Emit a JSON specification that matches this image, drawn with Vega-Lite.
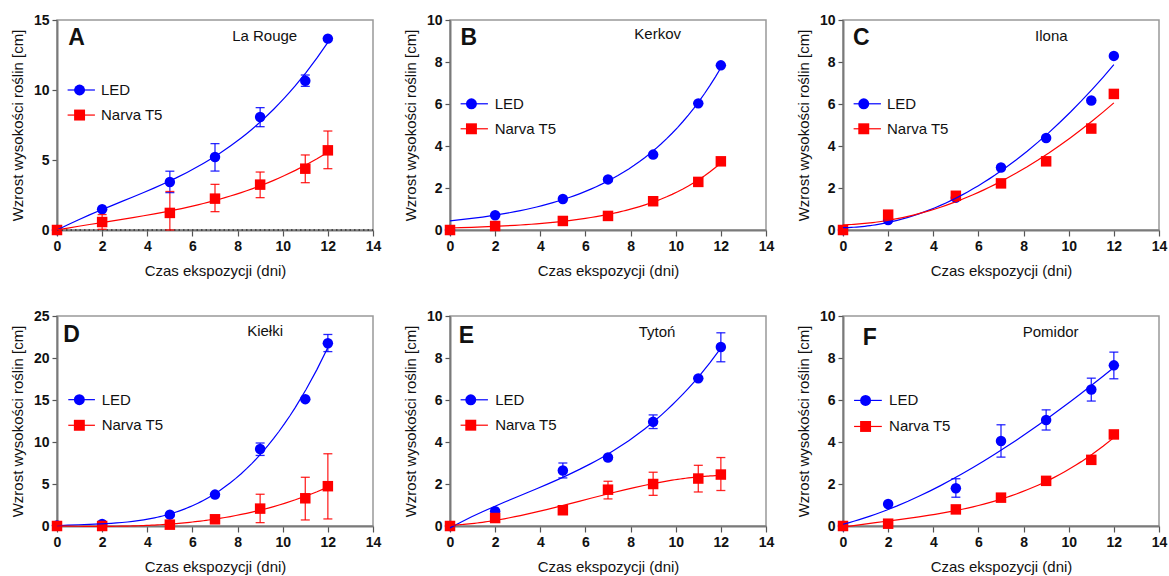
{
"$schema": "https://vega.github.io/schema/vega-lite/v6.json",
"padding": {"left": 9, "top": 12, "right": 5, "bottom": 5},
"background": "white",
"config": {
  "font": "Liberation Sans",
  "view": {"stroke": "#999999", "strokeWidth": 1.5},
  "axis": {"domainColor": "#7a7a7a", "domainWidth": 2, "tickColor": "#555", "tickWidth": 1.2, "grid": false,
    "labelFont": "Liberation Sans", "labelFontSize": 14, "labelFontWeight": "bold", "labelColor": "#111",
    "titleFont": "Liberation Sans", "titleFontSize": 15, "titleFontWeight": "normal", "titleColor": "#111"}
},
"datasets": {
"pts": [
{"panel":"A","series":"LED","day":0,"mean":0},
{"panel":"A","series":"LED","day":2,"mean":1.48},
{"panel":"A","series":"LED","day":5,"mean":3.43,"lo":2.67,"hi":4.2},
{"panel":"A","series":"LED","day":7,"mean":5.21,"lo":4.21,"hi":6.17},
{"panel":"A","series":"LED","day":9,"mean":8.07,"lo":7.38,"hi":8.74},
{"panel":"A","series":"LED","day":11,"mean":10.66,"lo":10.26,"hi":11.07},
{"panel":"A","series":"LED","day":12,"mean":13.67},
{"panel":"A","series":"Narva T5","day":0,"mean":0},
{"panel":"A","series":"Narva T5","day":2,"mean":0.57,"lo":0.05,"hi":1.1},
{"panel":"A","series":"Narva T5","day":5,"mean":1.22,"lo":0,"hi":2.75},
{"panel":"A","series":"Narva T5","day":7,"mean":2.24,"lo":1.31,"hi":3.26},
{"panel":"A","series":"Narva T5","day":9,"mean":3.24,"lo":2.31,"hi":4.14},
{"panel":"A","series":"Narva T5","day":11,"mean":4.38,"lo":3.38,"hi":5.36},
{"panel":"A","series":"Narva T5","day":12,"mean":5.69,"lo":4.38,"hi":7.07},
{"panel":"B","series":"LED","day":0,"mean":0},
{"panel":"B","series":"LED","day":2,"mean":0.7},
{"panel":"B","series":"LED","day":5,"mean":1.48},
{"panel":"B","series":"LED","day":7,"mean":2.41},
{"panel":"B","series":"LED","day":9,"mean":3.59},
{"panel":"B","series":"LED","day":11,"mean":6.03},
{"panel":"B","series":"LED","day":12,"mean":7.84},
{"panel":"B","series":"Narva T5","day":0,"mean":0},
{"panel":"B","series":"Narva T5","day":2,"mean":0.19},
{"panel":"B","series":"Narva T5","day":5,"mean":0.43},
{"panel":"B","series":"Narva T5","day":7,"mean":0.67},
{"panel":"B","series":"Narva T5","day":9,"mean":1.37},
{"panel":"B","series":"Narva T5","day":11,"mean":2.29},
{"panel":"B","series":"Narva T5","day":12,"mean":3.27},
{"panel":"C","series":"LED","day":0,"mean":0},
{"panel":"C","series":"LED","day":2,"mean":0.48},
{"panel":"C","series":"LED","day":5,"mean":1.54},
{"panel":"C","series":"LED","day":7,"mean":2.98},
{"panel":"C","series":"LED","day":9,"mean":4.38},
{"panel":"C","series":"LED","day":11,"mean":6.17},
{"panel":"C","series":"LED","day":12,"mean":8.29},
{"panel":"C","series":"Narva T5","day":0,"mean":0},
{"panel":"C","series":"Narva T5","day":2,"mean":0.73},
{"panel":"C","series":"Narva T5","day":5,"mean":1.63},
{"panel":"C","series":"Narva T5","day":7,"mean":2.22},
{"panel":"C","series":"Narva T5","day":9,"mean":3.27},
{"panel":"C","series":"Narva T5","day":11,"mean":4.83},
{"panel":"C","series":"Narva T5","day":12,"mean":6.48},
{"panel":"D","series":"LED","day":0,"mean":0.05},
{"panel":"D","series":"LED","day":2,"mean":0.24},
{"panel":"D","series":"LED","day":5,"mean":1.35},
{"panel":"D","series":"LED","day":7,"mean":3.74},
{"panel":"D","series":"LED","day":9,"mean":9.16,"lo":8.4,"hi":9.88},
{"panel":"D","series":"LED","day":11,"mean":15.1},
{"panel":"D","series":"LED","day":12,"mean":21.75,"lo":20.76,"hi":22.8},
{"panel":"D","series":"Narva T5","day":0,"mean":0},
{"panel":"D","series":"Narva T5","day":2,"mean":0},
{"panel":"D","series":"Narva T5","day":5,"mean":0.16},
{"panel":"D","series":"Narva T5","day":7,"mean":0.8},
{"panel":"D","series":"Narva T5","day":9,"mean":2.07,"lo":0.4,"hi":3.78},
{"panel":"D","series":"Narva T5","day":11,"mean":3.3,"lo":0.72,"hi":5.8},
{"panel":"D","series":"Narva T5","day":12,"mean":4.74,"lo":0.84,"hi":8.6},
{"panel":"E","series":"LED","day":0,"mean":0},
{"panel":"E","series":"LED","day":2,"mean":0.7},
{"panel":"E","series":"LED","day":5,"mean":2.64,"lo":2.29,"hi":3.0},
{"panel":"E","series":"LED","day":7,"mean":3.26},
{"panel":"E","series":"LED","day":9,"mean":4.96,"lo":4.64,"hi":5.29},
{"panel":"E","series":"LED","day":11,"mean":7.03},
{"panel":"E","series":"LED","day":12,"mean":8.52,"lo":7.82,"hi":9.2},
{"panel":"E","series":"Narva T5","day":0,"mean":0},
{"panel":"E","series":"Narva T5","day":2,"mean":0.38},
{"panel":"E","series":"Narva T5","day":5,"mean":0.75},
{"panel":"E","series":"Narva T5","day":7,"mean":1.73,"lo":1.29,"hi":2.13},
{"panel":"E","series":"Narva T5","day":9,"mean":2.0,"lo":1.46,"hi":2.56},
{"panel":"E","series":"Narva T5","day":11,"mean":2.26,"lo":1.62,"hi":2.89},
{"panel":"E","series":"Narva T5","day":12,"mean":2.45,"lo":1.69,"hi":3.26},
{"panel":"F","series":"LED","day":0,"mean":0},
{"panel":"F","series":"LED","day":2,"mean":1.05},
{"panel":"F","series":"LED","day":5,"mean":1.8,"lo":1.37,"hi":2.25},
{"panel":"F","series":"LED","day":7,"mean":4.05,"lo":3.28,"hi":4.82},
{"panel":"F","series":"LED","day":9,"mean":5.05,"lo":4.57,"hi":5.53},
{"panel":"F","series":"LED","day":11,"mean":6.5,"lo":5.95,"hi":7.04},
{"panel":"F","series":"LED","day":12,"mean":7.65,"lo":7.01,"hi":8.28},
{"panel":"F","series":"Narva T5","day":0,"mean":0},
{"panel":"F","series":"Narva T5","day":2,"mean":0.11},
{"panel":"F","series":"Narva T5","day":5,"mean":0.79},
{"panel":"F","series":"Narva T5","day":7,"mean":1.35},
{"panel":"F","series":"Narva T5","day":9,"mean":2.15,"lo":2.0,"hi":2.35},
{"panel":"F","series":"Narva T5","day":11,"mean":3.15},
{"panel":"F","series":"Narva T5","day":12,"mean":4.36}
]
},
"columns": 3,
"bounds": "flush",
"spacing": {"row": 86, "column": 77},
"concat": [
{
"width": 316, "height": 210,
"layer": [
{"data":{"name":"pts"},"transform":[{"filter":"datum.panel=='A'"}],"mark":{"type":"point","filled":true,"size":110,"opacity":1},"encoding":{
  "x":{"field":"day","type":"quantitative","scale":{"domain":[0,14],"nice":false,"zero":false},"axis":{"values":[0,1,2,3,4,5,6,7,8,9,10,11,12,13,14],"labelExpr":"datum.value % 2 == 0 ? datum.label : ''","tickSize":{"condition":{"test":"datum.value % 2 == 0","value":6},"value":3},"labelPadding":3,"titlePadding":10,"labelOverlap":false,"labelFlush":false,"title":"Czas ekspozycji (dni)"}},
  "y":{"field":"mean","type":"quantitative","scale":{"domain":[0,15],"nice":false},"axis":{"values":[0,5,10,15],"tickSize":5,"labelPadding":3,"titlePadding":8,"labelOverlap":false,"labelFlush":false,"title":"Wzrost wysokości roślin [cm]"}},
  "color":{"field":"series","type":"nominal","scale":{"domain":["LED","Narva T5"],"range":["#0000ff","#ff0000"]},"legend":null},
  "shape":{"field":"series","type":"nominal","scale":{"domain":["LED","Narva T5"],"range":["circle","square"]},"legend":null}}},
{"data":{"values":[{}]},"mark":{"type":"rule","strokeDash":[1.5,3],"color":"#333","strokeWidth":1.3},"encoding":{"x":{"datum":0},"x2":{"datum":14},"y":{"datum":0}}},
{"data":{"name":"pts"},"transform":[{"filter":"datum.panel=='A' && isValid(datum.lo)"}],"mark":{"type":"rule","strokeWidth":1.3,"opacity":0.85},"encoding":{"x":{"field":"day","type":"quantitative"},"y":{"field":"lo","type":"quantitative"},"y2":{"field":"hi"},"color":{"field":"series","type":"nominal","legend":null}}},
{"data":{"name":"pts"},"transform":[{"filter":"datum.panel=='A' && isValid(datum.lo)"}],"mark":{"type":"tick","orient":"horizontal","size":9,"thickness":1.3,"opacity":0.85},"encoding":{"x":{"field":"day","type":"quantitative"},"y":{"field":"lo","type":"quantitative"},"color":{"field":"series","type":"nominal","legend":null}}},
{"data":{"name":"pts"},"transform":[{"filter":"datum.panel=='A' && isValid(datum.lo)"}],"mark":{"type":"tick","orient":"horizontal","size":9,"thickness":1.3,"opacity":0.85},"encoding":{"x":{"field":"day","type":"quantitative"},"y":{"field":"hi","type":"quantitative"},"color":{"field":"series","type":"nominal","legend":null}}},
{"data":{"name":"pts"},"transform":[{"filter":"datum.panel=='A'"},{"regression":"mean","on":"day","groupby":["series"],"method":"poly","order":3,"extent":[0,12]}],"mark":{"type":"line","strokeWidth":1.2},"encoding":{"x":{"field":"day","type":"quantitative"},"y":{"field":"mean","type":"quantitative"},"color":{"field":"series","type":"nominal","legend":null}}},
{"data":{"values":[{}]},"mark":{"type":"rule","color":"#0000ff","strokeWidth":1.2},"encoding":{"x":{"datum":0.47},"x2":{"datum":1.68},"y":{"datum":10.0}}},
{"data":{"values":[{}]},"mark":{"type":"rule","color":"#ff0000","strokeWidth":1.2},"encoding":{"x":{"datum":0.47},"x2":{"datum":1.68},"y":{"datum":8.21}}},
{"data":{"values":[{}]},"mark":{"type":"point","shape":"circle","filled":true,"size":120,"opacity":1,"color":"#0000ff"},"encoding":{"x":{"datum":1.0},"y":{"datum":10.0}}},
{"data":{"values":[{}]},"mark":{"type":"point","shape":"square","filled":true,"size":120,"opacity":1,"color":"#ff0000"},"encoding":{"x":{"datum":1.0},"y":{"datum":8.21}}},
{"data":{"values":[{}]},"mark":{"type":"text","text":"LED","align":"left","baseline":"middle","fontSize":15,"color":"#111"},"encoding":{"x":{"datum":1.95},"y":{"datum":10.0}}},
{"data":{"values":[{}]},"mark":{"type":"text","text":"Narva T5","align":"left","baseline":"middle","fontSize":15,"color":"#111"},"encoding":{"x":{"datum":1.95},"y":{"datum":8.21}}},
{"data":{"values":[{}]},"mark":{"type":"text","text":"A","align":"left","baseline":"middle","fontSize":23,"fontWeight":"bold","color":"#111"},"encoding":{"x":{"datum":0.5},"y":{"datum":13.68}}},
{"data":{"values":[{}]},"mark":{"type":"text","text":"La Rouge","align":"center","baseline":"middle","fontSize":15,"color":"#111"},"encoding":{"x":{"datum":9.2},"y":{"datum":13.88}}}
]
},
{
"width": 316, "height": 210,
"layer": [
{"data":{"name":"pts"},"transform":[{"filter":"datum.panel=='B'"}],"mark":{"type":"point","filled":true,"size":110,"opacity":1},"encoding":{
  "x":{"field":"day","type":"quantitative","scale":{"domain":[0,14],"nice":false,"zero":false},"axis":{"values":[0,1,2,3,4,5,6,7,8,9,10,11,12,13,14],"labelExpr":"datum.value % 2 == 0 ? datum.label : ''","tickSize":{"condition":{"test":"datum.value % 2 == 0","value":6},"value":3},"labelPadding":3,"titlePadding":10,"labelOverlap":false,"labelFlush":false,"title":"Czas ekspozycji (dni)"}},
  "y":{"field":"mean","type":"quantitative","scale":{"domain":[0,10],"nice":false},"axis":{"values":[0,2,4,6,8,10],"tickSize":5,"labelPadding":3,"titlePadding":8,"labelOverlap":false,"labelFlush":false,"title":"Wzrost wysokości roślin [cm]"}},
  "color":{"field":"series","type":"nominal","legend":null},
  "shape":{"field":"series","type":"nominal","scale":{"domain":["LED","Narva T5"],"range":["circle","square"]},"legend":null}}},
{"data":{"name":"pts"},"transform":[{"filter":"datum.panel=='B' && datum.mean > 0"},{"regression":"mean","on":"day","groupby":["series"],"method":"exp","extent":[0,12]}],"mark":{"type":"line","strokeWidth":1.2},"encoding":{"x":{"field":"day","type":"quantitative"},"y":{"field":"mean","type":"quantitative"},"color":{"field":"series","type":"nominal","legend":null}}},
{"data":{"values":[{}]},"mark":{"type":"rule","color":"#0000ff","strokeWidth":1.2},"encoding":{"x":{"datum":0.47},"x2":{"datum":1.68},"y":{"datum":6.01}}},
{"data":{"values":[{}]},"mark":{"type":"rule","color":"#ff0000","strokeWidth":1.2},"encoding":{"x":{"datum":0.47},"x2":{"datum":1.68},"y":{"datum":4.82}}},
{"data":{"values":[{}]},"mark":{"type":"point","shape":"circle","filled":true,"size":120,"opacity":1,"color":"#0000ff"},"encoding":{"x":{"datum":0.95},"y":{"datum":6.01}}},
{"data":{"values":[{}]},"mark":{"type":"point","shape":"square","filled":true,"size":120,"opacity":1,"color":"#ff0000"},"encoding":{"x":{"datum":0.95},"y":{"datum":4.82}}},
{"data":{"values":[{}]},"mark":{"type":"text","text":"LED","align":"left","baseline":"middle","fontSize":15,"color":"#111"},"encoding":{"x":{"datum":1.98},"y":{"datum":6.01}}},
{"data":{"values":[{}]},"mark":{"type":"text","text":"Narva T5","align":"left","baseline":"middle","fontSize":15,"color":"#111"},"encoding":{"x":{"datum":1.98},"y":{"datum":4.82}}},
{"data":{"values":[{}]},"mark":{"type":"text","text":"B","align":"left","baseline":"middle","fontSize":23,"fontWeight":"bold","color":"#111"},"encoding":{"x":{"datum":0.47},"y":{"datum":9.12}}},
{"data":{"values":[{}]},"mark":{"type":"text","text":"Kerkov","align":"center","baseline":"middle","fontSize":15,"color":"#111"},"encoding":{"x":{"datum":9.2},"y":{"datum":9.34}}}
]
},
{
"width": 316, "height": 210,
"layer": [
{"data":{"name":"pts"},"transform":[{"filter":"datum.panel=='C'"}],"mark":{"type":"point","filled":true,"size":110,"opacity":1},"encoding":{
  "x":{"field":"day","type":"quantitative","scale":{"domain":[0,14],"nice":false,"zero":false},"axis":{"values":[0,1,2,3,4,5,6,7,8,9,10,11,12,13,14],"labelExpr":"datum.value % 2 == 0 ? datum.label : ''","tickSize":{"condition":{"test":"datum.value % 2 == 0","value":6},"value":3},"labelPadding":3,"titlePadding":10,"labelOverlap":false,"labelFlush":false,"title":"Czas ekspozycji (dni)"}},
  "y":{"field":"mean","type":"quantitative","scale":{"domain":[0,10],"nice":false},"axis":{"values":[0,2,4,6,8,10],"tickSize":5,"labelPadding":3,"titlePadding":8,"labelOverlap":false,"labelFlush":false,"title":"Wzrost wysokości roślin [cm]"}},
  "color":{"field":"series","type":"nominal","legend":null},
  "shape":{"field":"series","type":"nominal","scale":{"domain":["LED","Narva T5"],"range":["circle","square"]},"legend":null}}},
{"data":{"name":"pts"},"transform":[{"filter":"datum.panel=='C'"},{"regression":"mean","on":"day","groupby":["series"],"method":"poly","order":2,"extent":[0,12]}],"mark":{"type":"line","strokeWidth":1.2},"encoding":{"x":{"field":"day","type":"quantitative"},"y":{"field":"mean","type":"quantitative"},"color":{"field":"series","type":"nominal","legend":null}}},
{"data":{"values":[{}]},"mark":{"type":"rule","color":"#0000ff","strokeWidth":1.2},"encoding":{"x":{"datum":0.47},"x2":{"datum":1.68},"y":{"datum":6.01}}},
{"data":{"values":[{}]},"mark":{"type":"rule","color":"#ff0000","strokeWidth":1.2},"encoding":{"x":{"datum":0.47},"x2":{"datum":1.68},"y":{"datum":4.82}}},
{"data":{"values":[{}]},"mark":{"type":"point","shape":"circle","filled":true,"size":120,"opacity":1,"color":"#0000ff"},"encoding":{"x":{"datum":0.92},"y":{"datum":6.01}}},
{"data":{"values":[{}]},"mark":{"type":"point","shape":"square","filled":true,"size":120,"opacity":1,"color":"#ff0000"},"encoding":{"x":{"datum":0.92},"y":{"datum":4.82}}},
{"data":{"values":[{}]},"mark":{"type":"text","text":"LED","align":"left","baseline":"middle","fontSize":15,"color":"#111"},"encoding":{"x":{"datum":1.95},"y":{"datum":6.01}}},
{"data":{"values":[{}]},"mark":{"type":"text","text":"Narva T5","align":"left","baseline":"middle","fontSize":15,"color":"#111"},"encoding":{"x":{"datum":1.95},"y":{"datum":4.82}}},
{"data":{"values":[{}]},"mark":{"type":"text","text":"C","align":"left","baseline":"middle","fontSize":23,"fontWeight":"bold","color":"#111"},"encoding":{"x":{"datum":0.44},"y":{"datum":9.12}}},
{"data":{"values":[{}]},"mark":{"type":"text","text":"Ilona","align":"center","baseline":"middle","fontSize":15,"color":"#111"},"encoding":{"x":{"datum":9.23},"y":{"datum":9.24}}}
]
},
{
"width": 316, "height": 210,
"layer": [
{"data":{"name":"pts"},"transform":[{"filter":"datum.panel=='D'"}],"mark":{"type":"point","filled":true,"size":110,"opacity":1},"encoding":{
  "x":{"field":"day","type":"quantitative","scale":{"domain":[0,14],"nice":false,"zero":false},"axis":{"values":[0,1,2,3,4,5,6,7,8,9,10,11,12,13,14],"labelExpr":"datum.value % 2 == 0 ? datum.label : ''","tickSize":{"condition":{"test":"datum.value % 2 == 0","value":6},"value":3},"labelPadding":3,"titlePadding":10,"labelOverlap":false,"labelFlush":false,"title":"Czas ekspozycji (dni)"}},
  "y":{"field":"mean","type":"quantitative","scale":{"domain":[0,25],"nice":false},"axis":{"values":[0,5,10,15,20,25],"tickSize":5,"labelPadding":3,"titlePadding":8,"labelOverlap":false,"labelFlush":false,"title":"Wzrost wysokości roślin [cm]"}},
  "color":{"field":"series","type":"nominal","legend":null},
  "shape":{"field":"series","type":"nominal","scale":{"domain":["LED","Narva T5"],"range":["circle","square"]},"legend":null}}},
{"data":{"name":"pts"},"transform":[{"filter":"datum.panel=='D' && isValid(datum.lo)"}],"mark":{"type":"rule","strokeWidth":1.3,"opacity":0.85},"encoding":{"x":{"field":"day","type":"quantitative"},"y":{"field":"lo","type":"quantitative"},"y2":{"field":"hi"},"color":{"field":"series","type":"nominal","legend":null}}},
{"data":{"name":"pts"},"transform":[{"filter":"datum.panel=='D' && isValid(datum.lo)"}],"mark":{"type":"tick","orient":"horizontal","size":9,"thickness":1.3,"opacity":0.85},"encoding":{"x":{"field":"day","type":"quantitative"},"y":{"field":"lo","type":"quantitative"},"color":{"field":"series","type":"nominal","legend":null}}},
{"data":{"name":"pts"},"transform":[{"filter":"datum.panel=='D' && isValid(datum.lo)"}],"mark":{"type":"tick","orient":"horizontal","size":9,"thickness":1.3,"opacity":0.85},"encoding":{"x":{"field":"day","type":"quantitative"},"y":{"field":"hi","type":"quantitative"},"color":{"field":"series","type":"nominal","legend":null}}},
{"data":{"name":"pts"},"transform":[{"filter":"datum.panel=='D'"},{"regression":"mean","on":"day","groupby":["series"],"method":"poly","order":3,"extent":[0,12]}],"mark":{"type":"line","strokeWidth":1.2},"encoding":{"x":{"field":"day","type":"quantitative"},"y":{"field":"mean","type":"quantitative"},"color":{"field":"series","type":"nominal","legend":null}}},
{"data":{"values":[{}]},"mark":{"type":"rule","color":"#0000ff","strokeWidth":1.2},"encoding":{"x":{"datum":0.5},"x2":{"datum":1.68},"y":{"datum":15.04}}},
{"data":{"values":[{}]},"mark":{"type":"rule","color":"#ff0000","strokeWidth":1.2},"encoding":{"x":{"datum":0.5},"x2":{"datum":1.68},"y":{"datum":11.99}}},
{"data":{"values":[{}]},"mark":{"type":"point","shape":"circle","filled":true,"size":120,"opacity":1,"color":"#0000ff"},"encoding":{"x":{"datum":0.99},"y":{"datum":15.04}}},
{"data":{"values":[{}]},"mark":{"type":"point","shape":"square","filled":true,"size":120,"opacity":1,"color":"#ff0000"},"encoding":{"x":{"datum":0.99},"y":{"datum":11.99}}},
{"data":{"values":[{}]},"mark":{"type":"text","text":"LED","align":"left","baseline":"middle","fontSize":15,"color":"#111"},"encoding":{"x":{"datum":1.98},"y":{"datum":15.04}}},
{"data":{"values":[{}]},"mark":{"type":"text","text":"Narva T5","align":"left","baseline":"middle","fontSize":15,"color":"#111"},"encoding":{"x":{"datum":1.98},"y":{"datum":11.99}}},
{"data":{"values":[{}]},"mark":{"type":"text","text":"D","align":"left","baseline":"middle","fontSize":23,"fontWeight":"bold","color":"#111"},"encoding":{"x":{"datum":0.28},"y":{"datum":22.7}}},
{"data":{"values":[{}]},"mark":{"type":"text","text":"Kiełki","align":"center","baseline":"middle","fontSize":15,"color":"#111"},"encoding":{"x":{"datum":9.22},"y":{"datum":23.2}}}
]
},
{
"width": 316, "height": 210,
"layer": [
{"data":{"name":"pts"},"transform":[{"filter":"datum.panel=='E'"}],"mark":{"type":"point","filled":true,"size":110,"opacity":1},"encoding":{
  "x":{"field":"day","type":"quantitative","scale":{"domain":[0,14],"nice":false,"zero":false},"axis":{"values":[0,1,2,3,4,5,6,7,8,9,10,11,12,13,14],"labelExpr":"datum.value % 2 == 0 ? datum.label : ''","tickSize":{"condition":{"test":"datum.value % 2 == 0","value":6},"value":3},"labelPadding":3,"titlePadding":10,"labelOverlap":false,"labelFlush":false,"title":"Czas ekspozycji (dni)"}},
  "y":{"field":"mean","type":"quantitative","scale":{"domain":[0,10],"nice":false},"axis":{"values":[0,2,4,6,8,10],"tickSize":5,"labelPadding":3,"titlePadding":8,"labelOverlap":false,"labelFlush":false,"title":"Wzrost wysokości roślin [cm]"}},
  "color":{"field":"series","type":"nominal","legend":null},
  "shape":{"field":"series","type":"nominal","scale":{"domain":["LED","Narva T5"],"range":["circle","square"]},"legend":null}}},
{"data":{"name":"pts"},"transform":[{"filter":"datum.panel=='E' && isValid(datum.lo)"}],"mark":{"type":"rule","strokeWidth":1.3,"opacity":0.85},"encoding":{"x":{"field":"day","type":"quantitative"},"y":{"field":"lo","type":"quantitative"},"y2":{"field":"hi"},"color":{"field":"series","type":"nominal","legend":null}}},
{"data":{"name":"pts"},"transform":[{"filter":"datum.panel=='E' && isValid(datum.lo)"}],"mark":{"type":"tick","orient":"horizontal","size":9,"thickness":1.3,"opacity":0.85},"encoding":{"x":{"field":"day","type":"quantitative"},"y":{"field":"lo","type":"quantitative"},"color":{"field":"series","type":"nominal","legend":null}}},
{"data":{"name":"pts"},"transform":[{"filter":"datum.panel=='E' && isValid(datum.lo)"}],"mark":{"type":"tick","orient":"horizontal","size":9,"thickness":1.3,"opacity":0.85},"encoding":{"x":{"field":"day","type":"quantitative"},"y":{"field":"hi","type":"quantitative"},"color":{"field":"series","type":"nominal","legend":null}}},
{"data":{"name":"pts"},"transform":[{"filter":"datum.panel=='E'"},{"regression":"mean","on":"day","groupby":["series"],"method":"poly","order":3,"extent":[0,12]}],"mark":{"type":"line","strokeWidth":1.2},"encoding":{"x":{"field":"day","type":"quantitative"},"y":{"field":"mean","type":"quantitative"},"color":{"field":"series","type":"nominal","legend":null}}},
{"data":{"values":[{}]},"mark":{"type":"rule","color":"#0000ff","strokeWidth":1.2},"encoding":{"x":{"datum":0.47},"x2":{"datum":1.68},"y":{"datum":6.01}}},
{"data":{"values":[{}]},"mark":{"type":"rule","color":"#ff0000","strokeWidth":1.2},"encoding":{"x":{"datum":0.47},"x2":{"datum":1.68},"y":{"datum":4.8}}},
{"data":{"values":[{}]},"mark":{"type":"point","shape":"circle","filled":true,"size":120,"opacity":1,"color":"#0000ff"},"encoding":{"x":{"datum":0.92},"y":{"datum":6.01}}},
{"data":{"values":[{}]},"mark":{"type":"point","shape":"square","filled":true,"size":120,"opacity":1,"color":"#ff0000"},"encoding":{"x":{"datum":0.92},"y":{"datum":4.8}}},
{"data":{"values":[{}]},"mark":{"type":"text","text":"LED","align":"left","baseline":"middle","fontSize":15,"color":"#111"},"encoding":{"x":{"datum":2.0},"y":{"datum":6.01}}},
{"data":{"values":[{}]},"mark":{"type":"text","text":"Narva T5","align":"left","baseline":"middle","fontSize":15,"color":"#111"},"encoding":{"x":{"datum":2.0},"y":{"datum":4.8}}},
{"data":{"values":[{}]},"mark":{"type":"text","text":"E","align":"left","baseline":"middle","fontSize":23,"fontWeight":"bold","color":"#111"},"encoding":{"x":{"datum":0.39},"y":{"datum":9.05}}},
{"data":{"values":[{}]},"mark":{"type":"text","text":"Tytoń","align":"center","baseline":"middle","fontSize":15,"color":"#111"},"encoding":{"x":{"datum":9.17},"y":{"datum":9.24}}}
]
},
{
"width": 316, "height": 210,
"layer": [
{"data":{"name":"pts"},"transform":[{"filter":"datum.panel=='F'"}],"mark":{"type":"point","filled":true,"size":110,"opacity":1},"encoding":{
  "x":{"field":"day","type":"quantitative","scale":{"domain":[0,14],"nice":false,"zero":false},"axis":{"values":[0,1,2,3,4,5,6,7,8,9,10,11,12,13,14],"labelExpr":"datum.value % 2 == 0 ? datum.label : ''","tickSize":{"condition":{"test":"datum.value % 2 == 0","value":6},"value":3},"labelPadding":3,"titlePadding":10,"labelOverlap":false,"labelFlush":false,"title":"Czas ekspozycji (dni)"}},
  "y":{"field":"mean","type":"quantitative","scale":{"domain":[0,10],"nice":false},"axis":{"values":[0,2,4,6,8,10],"tickSize":5,"labelPadding":3,"titlePadding":8,"labelOverlap":false,"labelFlush":false,"title":"Wzrost wysokości roślin [cm]"}},
  "color":{"field":"series","type":"nominal","legend":null},
  "shape":{"field":"series","type":"nominal","scale":{"domain":["LED","Narva T5"],"range":["circle","square"]},"legend":null}}},
{"data":{"name":"pts"},"transform":[{"filter":"datum.panel=='F' && isValid(datum.lo)"}],"mark":{"type":"rule","strokeWidth":1.3,"opacity":0.85},"encoding":{"x":{"field":"day","type":"quantitative"},"y":{"field":"lo","type":"quantitative"},"y2":{"field":"hi"},"color":{"field":"series","type":"nominal","legend":null}}},
{"data":{"name":"pts"},"transform":[{"filter":"datum.panel=='F' && isValid(datum.lo)"}],"mark":{"type":"tick","orient":"horizontal","size":9,"thickness":1.3,"opacity":0.85},"encoding":{"x":{"field":"day","type":"quantitative"},"y":{"field":"lo","type":"quantitative"},"color":{"field":"series","type":"nominal","legend":null}}},
{"data":{"name":"pts"},"transform":[{"filter":"datum.panel=='F' && isValid(datum.lo)"}],"mark":{"type":"tick","orient":"horizontal","size":9,"thickness":1.3,"opacity":0.85},"encoding":{"x":{"field":"day","type":"quantitative"},"y":{"field":"hi","type":"quantitative"},"color":{"field":"series","type":"nominal","legend":null}}},
{"data":{"name":"pts"},"transform":[{"filter":"datum.panel=='F'"},{"regression":"mean","on":"day","groupby":["series"],"method":"poly","order":3,"extent":[0,12]}],"mark":{"type":"line","strokeWidth":1.2},"encoding":{"x":{"field":"day","type":"quantitative"},"y":{"field":"mean","type":"quantitative"},"color":{"field":"series","type":"nominal","legend":null}}},
{"data":{"values":[{}]},"mark":{"type":"rule","color":"#0000ff","strokeWidth":1.2},"encoding":{"x":{"datum":0.49},"x2":{"datum":1.72},"y":{"datum":5.98}}},
{"data":{"values":[{}]},"mark":{"type":"rule","color":"#ff0000","strokeWidth":1.2},"encoding":{"x":{"datum":0.49},"x2":{"datum":1.72},"y":{"datum":4.74}}},
{"data":{"values":[{}]},"mark":{"type":"point","shape":"circle","filled":true,"size":120,"opacity":1,"color":"#0000ff"},"encoding":{"x":{"datum":1.0},"y":{"datum":5.98}}},
{"data":{"values":[{}]},"mark":{"type":"point","shape":"square","filled":true,"size":120,"opacity":1,"color":"#ff0000"},"encoding":{"x":{"datum":1.0},"y":{"datum":4.74}}},
{"data":{"values":[{}]},"mark":{"type":"text","text":"LED","align":"left","baseline":"middle","fontSize":15,"color":"#111"},"encoding":{"x":{"datum":2.04},"y":{"datum":5.98}}},
{"data":{"values":[{}]},"mark":{"type":"text","text":"Narva T5","align":"left","baseline":"middle","fontSize":15,"color":"#111"},"encoding":{"x":{"datum":2.04},"y":{"datum":4.74}}},
{"data":{"values":[{}]},"mark":{"type":"text","text":"F","align":"left","baseline":"middle","fontSize":23,"fontWeight":"bold","color":"#111"},"encoding":{"x":{"datum":0.87},"y":{"datum":8.95}}},
{"data":{"values":[{}]},"mark":{"type":"text","text":"Pomidor","align":"center","baseline":"middle","fontSize":15,"color":"#111"},"encoding":{"x":{"datum":9.2},"y":{"datum":9.23}}}
]
}
]
}
